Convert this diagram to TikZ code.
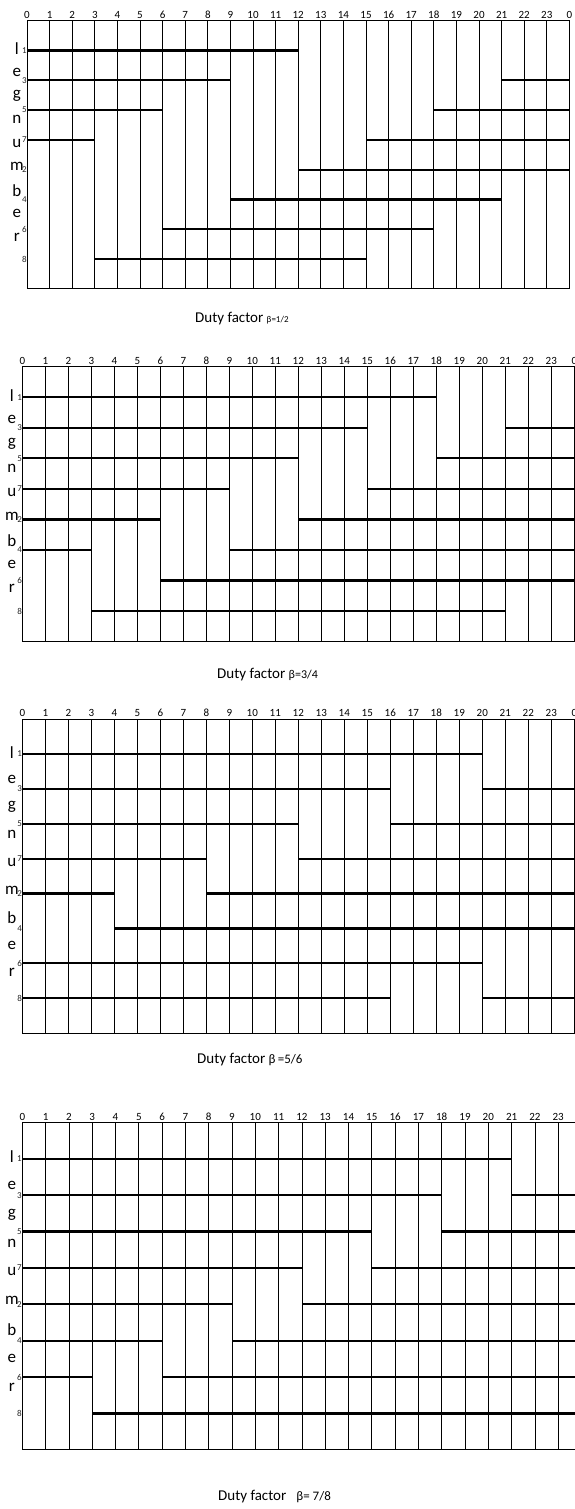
\documentclass[tikz,border=0pt]{standalone}
\usepackage{fontspec}
\setmainfont{Carlito}
\usetikzlibrary{positioning}

% one duty-factor chart: #1 name, #2 left, #3 top, #4 column width, #5 row height,
% #6 bars row/from/to, #7 last hour label shown
\newcommand{\legchart}[7]{%
  \begin{scope}[shift={(#2,#3)}, x=#4pt, y=-#5pt]
    \foreach \c in {1,...,23}
      \draw[gridline] (\c,0) -- (\c,9);
    \draw[frame] (0,0) rectangle (24,9);
    \foreach \r/\a/\b in {#6}
      \draw[bar] (\a,\r) -- (\b,\r);
    \foreach \c in {0,...,#7}
      \node[hour] (#1h\c) at (\c,0) {\pgfmathparse{int(mod(\c,24))}\pgfmathresult};
    \foreach \l [count=\i] in {l,e,g,n,u,m,b,e,r}
      \node[legletter] (#1l\i) at (-0.45,{0.95+0.79*(\i-1)}) {\l};
    \foreach \d [count=\r] in {1,3,5,7,2,4,6,8}
      \node[legno] (#1d\r) at (-0.12,\r) {\d};
  \end{scope}}

\begin{document}
\begin{tikzpicture}[
    x=1pt, y=-1pt,
    gridline/.style={line width=0.7pt},
    frame/.style={line width=0.9pt},
    bar/.style={line width=2.2pt},
    hour/.style={anchor=south, inner sep=1pt, yshift=1pt, font=\fontsize{11}{11}\selectfont},
    legletter/.style={inner sep=0pt, font=\fontsize{17}{17}\selectfont},
    legno/.style={inner sep=0pt, text=black!85, font=\fontsize{9}{9}\selectfont},
    caption/.style={anchor=west, inner sep=0pt, font=\fontsize{15}{18}\selectfont}
  ]
    \path[use as bounding box, clip] (0,0) rectangle (575,1509);
    \fill[white] (0,0) rectangle (575,1509);

    \legchart{a}{27}{20.7}{22.6}{29.8}{1/0/12, 2/0/9, 2/21/24, 3/0/6, 3/18/24, 4/0/3, 4/15/24,
      5/12/24, 6/9/21, 7/6/18, 8/3/15}{24}
    \legchart{b}{22.3}{366.7}{23}{30.55}{1/0/18, 2/0/15, 2/21/24, 3/0/12, 3/18/24, 4/0/9, 4/15/24,
      5/0/6, 5/12/24, 6/0/3, 6/9/24, 7/6/24, 8/3/21}{24}
    \legchart{c}{22.3}{719}{23}{34.9}{1/0/20, 2/0/16, 2/20/24, 3/0/12, 3/16/24, 4/0/8, 4/12/24,
      5/0/4, 5/8/24, 6/4/24, 7/0/20, 8/0/16, 8/20/24}{24}
    \legchart{d}{22.3}{1122.3}{23.3}{36.4}{1/0/21, 2/0/18, 2/21/24, 3/0/15, 3/18/24, 4/0/12, 4/15/24,
      5/0/9, 5/12/24, 6/0/6, 6/9/24, 7/0/3, 7/6/24, 8/3/24}{23}

    \node[caption] (capa) at (195,319) {Duty factor {\fontsize{9}{9}\selectfont β=1/2}};
    \node[caption] (capb) at (217,675) {Duty factor {\fontsize{12}{12}\selectfont β=3/4}};
    \node[caption] (capc) at (197,1060) {Duty factor {\fontsize{13}{13}\selectfont β\,=5/6}};
    \node[caption] (capd) at (218,1497) {Duty factor\hspace{10pt}{\fontsize{13}{13}\selectfont β= 7/8}};
\end{tikzpicture}
\end{document}
